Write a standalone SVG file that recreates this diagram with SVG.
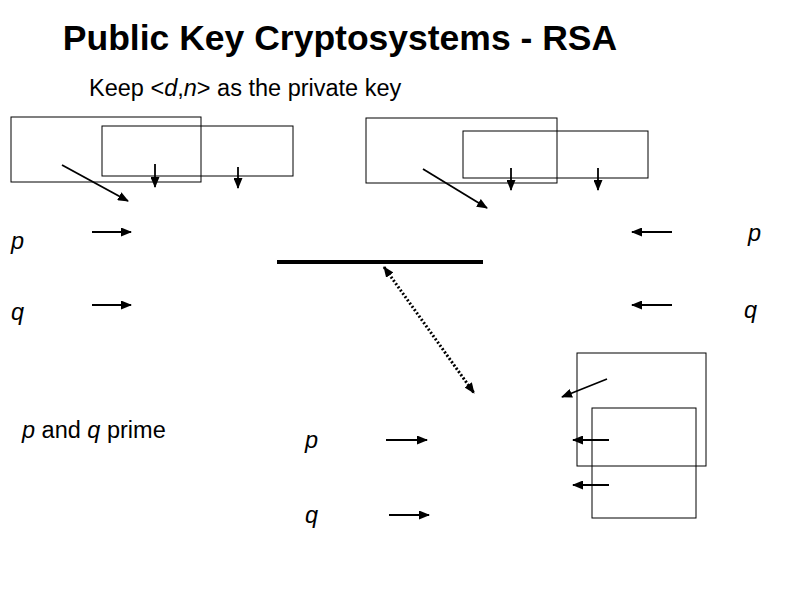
<svg xmlns="http://www.w3.org/2000/svg" width="794" height="595" viewBox="0 0 794 595">
<defs>
<marker id="ah" markerWidth="11" markerHeight="9" refX="10" refY="4.5" orient="auto" markerUnits="userSpaceOnUse"><path d="M0,0 L11,4.5 L0,9 z" fill="#000"/></marker>
<marker id="ahs" markerWidth="11" markerHeight="9" refX="1" refY="4.5" orient="auto" markerUnits="userSpaceOnUse"><path d="M11,0 L0,4.5 L11,9 z" fill="#000"/></marker>
</defs>
<style>
.b{fill:none;stroke:#000;stroke-width:1}
.a{stroke:#000;stroke-width:1.8;marker-end:url(#ah)}
.t{font-family:"Liberation Sans",Arial,sans-serif;font-size:23.5px;fill:#000}
.i{font-style:italic}
</style>
<rect width="794" height="595" fill="#fff"/>
<text x="340" y="50" text-anchor="middle" font-family="Liberation Sans,Arial,sans-serif" font-weight="bold" font-size="35.5">Public Key Cryptosystems - RSA</text>
<text x="89" y="96" class="t">Keep &lt;<tspan class="i">d</tspan>,<tspan class="i">n</tspan>&gt; as the private key</text>
<g id="box1"><rect class="b" x="11" y="117" width="190" height="65"/></g>
<g id="box2"><rect class="b" x="102" y="126" width="191" height="50"/></g>
<g id="box3"><rect class="b" x="366" y="118" width="191" height="65"/></g>
<g id="box4"><rect class="b" x="463" y="131" width="185" height="47"/></g>
<g id="box5"><rect class="b" x="577" y="353" width="129" height="113"/></g>
<g id="box6"><rect class="b" x="592" y="408" width="104" height="110"/></g>
<g id="bar"><line x1="277" y1="262" x2="483" y2="262" stroke="#000" stroke-width="4"/></g>
<g id="labels">
<text x="11" y="249" class="t i">p</text>
<text x="11" y="320" class="t i">q</text>
<text x="748" y="241" class="t i">p</text>
<text x="744" y="318" class="t i">q</text>
<text x="22" y="438" class="t"><tspan class="i">p</tspan> and <tspan class="i">q</tspan> prime</text>
<text x="305" y="448" class="t i">p</text>
<text x="305" y="523" class="t i">q</text>
</g>
<g id="connectors">
<line class="a" x1="62" y1="165" x2="128" y2="201"/>
<line class="a" x1="155" y1="164" x2="155" y2="187"/>
<line class="a" x1="238" y1="167" x2="238" y2="188"/>
<line class="a" x1="423" y1="169" x2="487" y2="208"/>
<line class="a" x1="511" y1="168" x2="511" y2="190"/>
<line class="a" x1="598" y1="168" x2="598" y2="190"/>
<line class="a" x1="92" y1="232" x2="131" y2="232"/>
<line class="a" x1="92" y1="305" x2="131" y2="305"/>
<line class="a" x1="672" y1="232" x2="632" y2="232"/>
<line class="a" x1="672" y1="305" x2="632" y2="305"/>
<line class="a" x1="386" y1="440" x2="427" y2="440"/>
<line class="a" x1="389" y1="515" x2="429" y2="515"/>
<line class="a" x1="607" y1="379" x2="562" y2="397"/>
<line class="a" x1="609" y1="440" x2="573" y2="440"/>
<line class="a" x1="609" y1="485" x2="573" y2="485"/>
<line x1="384" y1="267" x2="474" y2="393" stroke="#000" stroke-width="3" stroke-dasharray="2,2" marker-start="url(#ahs)" marker-end="url(#ah)"/>
</g>
</svg>
